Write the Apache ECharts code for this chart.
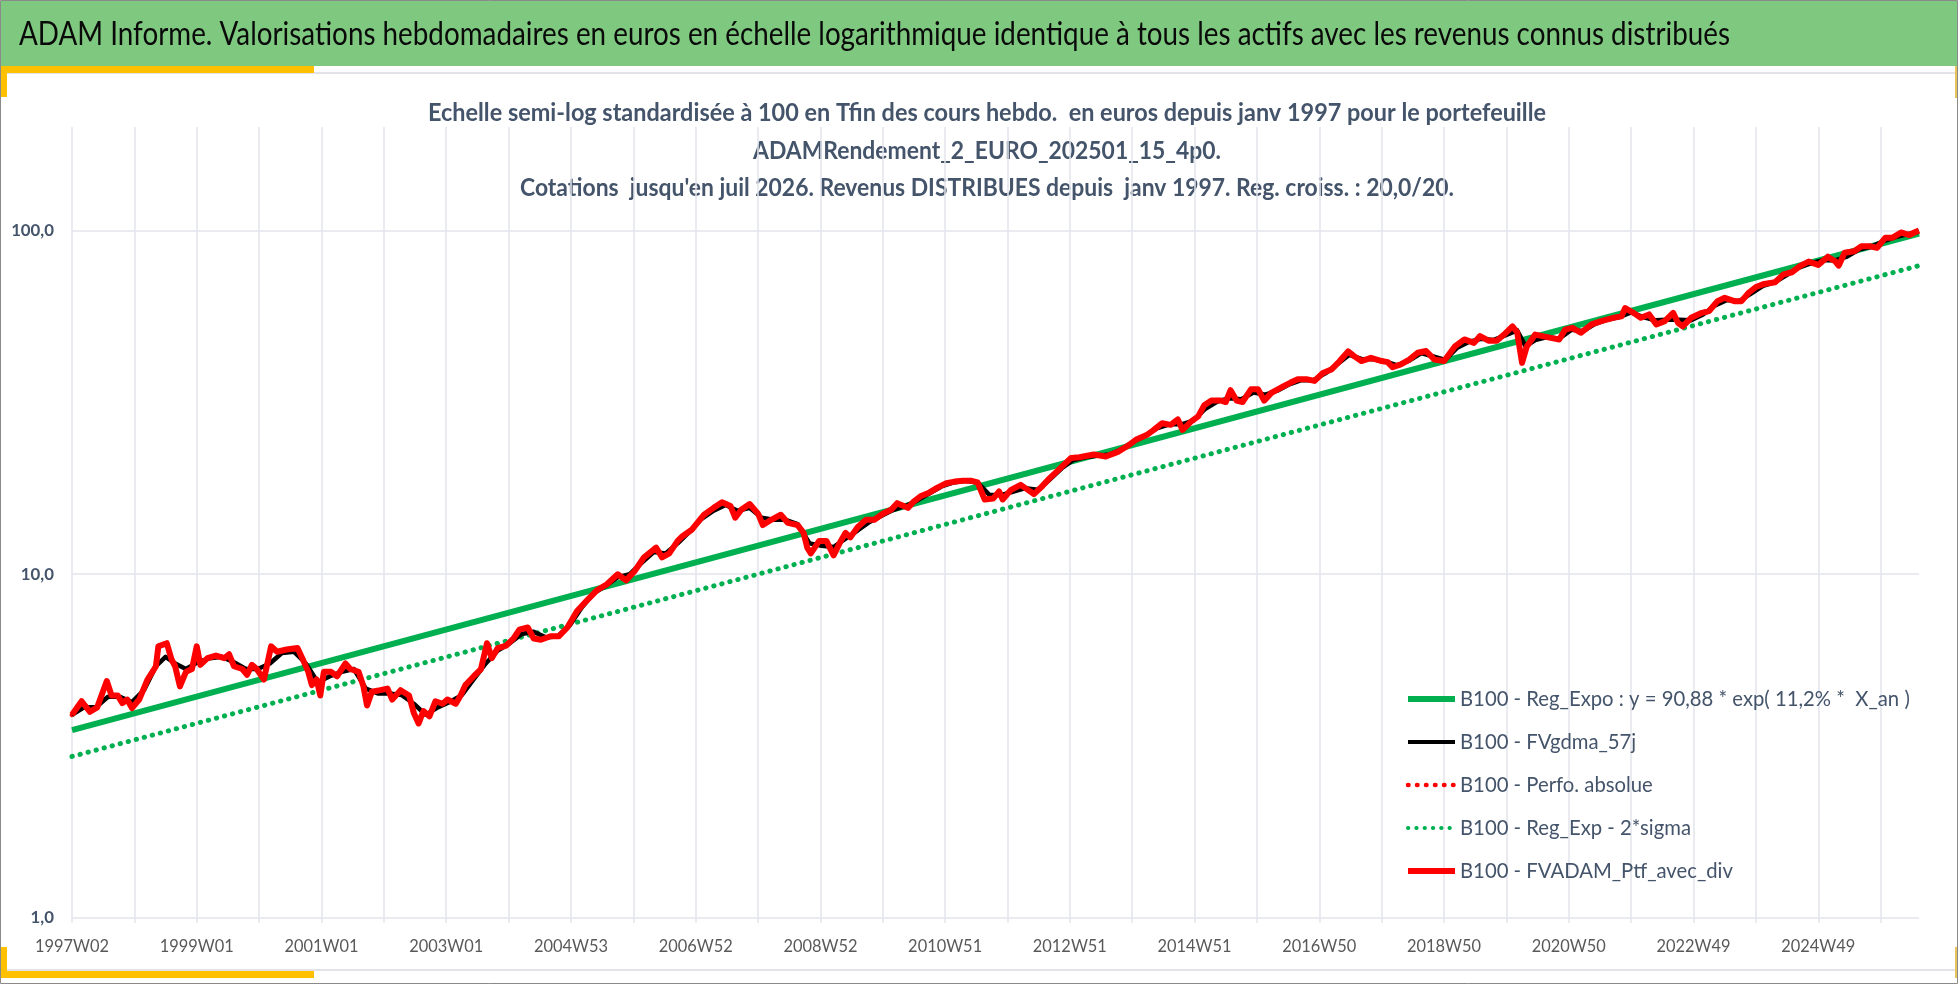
<!DOCTYPE html>
<html>
<head>
<meta charset="utf-8">
<title>ADAM Informe</title>
<script src="https://cdn.jsdelivr.net/npm/echarts@6/dist/echarts.min.js"></script>
<style>
  html, body { margin: 0; padding: 0; background: #fff; }
  #chart { width: 1958px; height: 984px; }
</style>
</head>
<body>
<div id="chart"></div>
<script>
// x = week index counted from 1997W02, one label every 104 weeks
const xTickLabels = ['1997W02', '1999W01', '2001W01', '2003W01', '2004W53', '2006W52', '2008W52',
  '2010W51', '2012W51', '2014W51', '2016W50', '2018W50', '2020W50', '2022W49', '2024W49']
const yTickValues = [1, 10, 100]
const lastWeek = 1540

// regression lines (start / end)
const regExpo = [[0, 3.52], [1540, 98]]
const regExp2Sigma = [[0, 2.95], [1540, 79]]

// B100 - FVADAM_Ptf_avec_div  [week, value]
const ptfAvecDiv = [
  [0, 3.9], [8, 4.27], [15, 3.98], [21, 4.1], [29, 4.89], [33, 4.44], [38, 4.44], [42, 4.22], [46, 4.32],
  [50, 4.08], [56, 4.32], [63, 4.94], [70, 5.4], [72, 6.17], [79, 6.3], [83, 5.65], [86, 5.4], [90, 4.72],
  [95, 5.2], [100, 5.3], [104, 6.17], [107, 5.45], [113, 5.7], [120, 5.8], [127, 5.7], [131, 5.85],
  [135, 5.4], [142, 5.3], [146, 5.1], [150, 5.45], [154, 5.3], [160, 4.94], [166, 6.17], [171, 5.95],
  [179, 6.04], [188, 6.1], [192, 5.7], [197, 5.2], [200, 4.76], [204, 4.94], [207, 4.44], [210, 5.2],
  [216, 5.2], [221, 5.05], [228, 5.5], [232, 5.3], [239, 5.2], [243, 4.72], [246, 4.15], [250, 4.55],
  [257, 4.6], [263, 4.65], [267, 4.32], [274, 4.6], [281, 4.44], [285, 3.95], [289, 3.68], [293, 4.0],
  [298, 3.86], [303, 4.27], [309, 4.2], [313, 4.32], [320, 4.2], [324, 4.44], [328, 4.76], [335, 5.05],
  [341, 5.3], [346, 6.3], [350, 5.7], [355, 6.1], [362, 6.2], [368, 6.5], [373, 6.9], [380, 7.0],
  [385, 6.5], [391, 6.45], [399, 6.6], [406, 6.6], [413, 7.0], [421, 7.8], [430, 8.44], [438, 9.0],
  [446, 9.35], [455, 10.0], [462, 9.6], [469, 10.2], [477, 11.2], [487, 11.95], [492, 11.2], [498, 11.5],
  [505, 12.5], [509, 12.9], [517, 13.5], [527, 14.9], [535, 15.6], [542, 16.2], [549, 15.8], [553, 14.6],
  [558, 15.4], [565, 16.0], [572, 15.0], [576, 13.9], [583, 14.4], [591, 14.9], [597, 14.1], [605, 13.9],
  [610, 13.2], [613, 11.95], [616, 11.5], [623, 12.5], [629, 12.5], [635, 11.35], [641, 12.5], [645, 13.2],
  [649, 12.8], [655, 13.7], [662, 14.4], [669, 14.4], [676, 15.0], [683, 15.4], [688, 16.1], [697, 15.6],
  [702, 16.3], [708, 16.9], [715, 17.3], [722, 17.9], [729, 18.4], [736, 18.6], [743, 18.7], [750, 18.7],
  [755, 18.5], [761, 16.5], [768, 16.6], [773, 17.4], [776, 16.5], [783, 17.6], [791, 18.2], [797, 17.6],
  [802, 17.1], [808, 17.9], [815, 19.0], [825, 20.5], [833, 21.8], [840, 21.9], [852, 22.3], [862, 22.0],
  [872, 22.7], [880, 23.6], [887, 24.6], [896, 25.4], [902, 26.3], [909, 27.5], [916, 27.2], [922, 28.2],
  [926, 26.3], [933, 27.8], [939, 28.8], [944, 31.0], [950, 32.0], [958, 32.0], [962, 31.7], [966, 34.3],
  [971, 32.0], [976, 31.7], [983, 34.5], [989, 34.5], [994, 32.0], [1000, 33.7], [1008, 34.9], [1016, 36.1],
  [1022, 36.9], [1030, 36.9], [1036, 36.5], [1043, 38.5], [1050, 39.4], [1057, 41.7], [1064, 44.5],
  [1069, 43.1], [1075, 41.7], [1083, 42.6], [1092, 41.7], [1097, 41.4], [1101, 40.0], [1108, 40.8],
  [1115, 42.1], [1122, 44.1], [1129, 44.6], [1136, 42.1], [1144, 41.7], [1153, 46.0], [1161, 48.2],
  [1169, 47.1], [1174, 49.3], [1181, 47.8], [1188, 47.8], [1194, 49.8], [1201, 52.6], [1205, 50.5],
  [1209, 41.2], [1213, 46.0], [1220, 49.8], [1226, 49.3], [1233, 48.7], [1240, 48.2], [1245, 51.5],
  [1251, 52.1], [1258, 50.4], [1267, 53.3], [1275, 54.5], [1285, 55.7], [1292, 56.3], [1295, 59.5],
  [1302, 57.6], [1308, 55.7], [1315, 57.0], [1321, 53.3], [1328, 54.5], [1335, 57.6], [1339, 53.9],
  [1343, 52.6], [1350, 55.7], [1359, 57.6], [1365, 58.3], [1372, 62.3], [1378, 63.7], [1386, 62.3],
  [1392, 62.3], [1398, 65.9], [1404, 68.5], [1411, 69.9], [1420, 70.7], [1427, 74.5], [1434, 75.6],
  [1441, 78.9], [1448, 81.2], [1456, 79.4], [1464, 83.9], [1470, 81.4], [1473, 79.0], [1478, 86.1],
  [1486, 87.0], [1492, 90.0], [1499, 90.0], [1505, 89.0], [1512, 95.3], [1518, 95.3], [1525, 98.7],
  [1532, 97.0], [1537, 99.0], [1540, 100]
]

// B100 - FVgdma_57j (smoothed, mostly under the red line)
const fvGdma57j = [
  [0, 3.9], [10, 4.1], [20, 4.1], [30, 4.4], [40, 4.4], [50, 4.25], [60, 4.6], [70, 5.4], [78, 5.75],
  [86, 5.5], [95, 5.3], [105, 5.55], [115, 5.7], [125, 5.75], [135, 5.55], [145, 5.3], [155, 5.3],
  [165, 5.5], [175, 5.9], [185, 5.95], [195, 5.5], [205, 4.85], [215, 5.05], [225, 5.2], [235, 5.3],
  [245, 4.65], [255, 4.5], [265, 4.5], [275, 4.45], [285, 4.2], [295, 3.9], [305, 4.1], [315, 4.25],
  [325, 4.45], [335, 4.95], [345, 5.5], [355, 6.0], [365, 6.3], [375, 6.7], [385, 6.8], [395, 6.55],
  [405, 6.6], [415, 7.1], [425, 8.0], [435, 8.8], [445, 9.25], [455, 9.8], [465, 10.0], [475, 10.8],
  [485, 11.6], [495, 11.5], [505, 12.3], [515, 13.3], [525, 14.5], [535, 15.3], [545, 15.9], [555, 15.3],
  [565, 15.6], [575, 14.6], [585, 14.4], [595, 14.4], [605, 14.0], [615, 12.3], [625, 12.1], [635, 12.0],
  [645, 12.7], [655, 13.4], [665, 14.2], [675, 14.8], [685, 15.4], [695, 15.8], [705, 16.4], [715, 17.2],
  [725, 18.0], [735, 18.5], [745, 18.7], [755, 18.5], [765, 17.0], [775, 17.0], [785, 17.4], [795, 17.8],
  [805, 17.6], [815, 18.8], [825, 20.3], [835, 21.5], [845, 21.9], [855, 22.1], [865, 22.3], [875, 23.1],
  [885, 24.3], [895, 25.3], [905, 26.6], [915, 27.3], [925, 27.3], [935, 28.0], [945, 30.3], [955, 31.8],
  [965, 32.5], [975, 32.3], [985, 33.8], [995, 33.3], [1005, 34.2], [1015, 35.7], [1025, 36.7], [1035, 36.7],
  [1045, 38.4], [1055, 40.8], [1065, 43.5], [1075, 42.3], [1085, 42.2], [1095, 41.6], [1105, 40.5],
  [1115, 41.8], [1125, 44.0], [1135, 43.0], [1145, 42.0], [1155, 45.6], [1165, 47.5], [1175, 48.4],
  [1185, 48.0], [1195, 49.5], [1205, 51.2], [1212, 46.0], [1220, 48.0], [1230, 49.0], [1240, 48.4],
  [1250, 51.4], [1260, 51.0], [1270, 53.5], [1280, 55.0], [1290, 56.0], [1300, 57.8], [1310, 56.0],
  [1320, 54.8], [1330, 55.0], [1340, 55.0], [1350, 54.8], [1360, 57.0], [1370, 60.5], [1380, 62.8],
  [1390, 62.3], [1400, 65.5], [1410, 69.0], [1420, 70.8], [1430, 74.3], [1440, 78.0], [1450, 80.3],
  [1460, 82.0], [1470, 81.8], [1480, 84.0], [1490, 88.0], [1500, 89.6], [1510, 93.0], [1520, 95.5],
  [1530, 97.5], [1540, 99.2]
]

const bannerTitle = 'ADAM Informe. Valorisations hebdomadaires en euros en échelle logarithmique identique à tous les actifs avec les revenus connus distribués'
const subTitle = [
  'Echelle semi-log standardisée à 100 en Tfin des cours hebdo.  en euros depuis janv 1997 pour le portefeuille',
  'ADAMRendement_2_EURO_202501_15_4p0.',
  "Cotations  jusqu'en juil 2026. Revenus DISTRIBUES depuis  janv 1997. Reg. croiss. : 20,0/20."
]
const seriesNames = [
  'B100 - Reg_Expo : y = 90,88 * exp( 11,2% *  X_an )',
  'B100 - FVgdma_57j',
  'B100 - Perfo. absolue',
  'B100 - Reg_Exp - 2*sigma',
  'B100 - FVADAM_Ptf_avec_div'
]

const FONT = "Lato, 'Noto Sans', sans-serif"
const GRID_COLOR = '#e3e5ec'
const GREEN = '#00b050'
const RED = '#ff0000'
const SLATE = '#44546a'

// the original uses a condensed font: fit texts to the widths seen on the picture
const measureCtx = document.createElement('canvas').getContext('2d')
function textWidth(text, font) {
  measureCtx.font = font
  return measureCtx.measureText(text).width
}
function fitScale(text, font, width) {
  return width / textWidth(text, font)
}
function fitSize(text, weight, base, width) {
  const w = textWidth(text, weight + ' ' + base + 'px ' + FONT)
  return Math.round(base * width / w * 10) / 10
}

const titleFont = 'normal 32px ' + FONT
const subFont = 'bold 24px ' + FONT
const subWidths = [1118, 468, 934]
const subY = [113, 151.5, 188.5]

// slightly taller than a pure width fit, closer to the condensed original
const legendSize = Math.min(22, fitSize(seriesNames[0], 'normal', 21, 450))
const xLabelSize = Math.min(20, fitSize(xTickLabels[0], 'normal', 19, 74))
const yLabelSize = Math.min(20, fitSize('100,0', 'bold', 19, 43))

const graphics = [
  { type: 'rect', z: -10, shape: { x: 1, y: 1, width: 1956, height: 65 }, style: { fill: '#7fc87f' } },
  { type: 'line', z: -10, shape: { x1: 7, y1: 73, x2: 1956, y2: 73 }, style: { stroke: '#e1e3e8', lineWidth: 2 } },
  { type: 'line', z: -10, shape: { x1: 7, y1: 970, x2: 1956, y2: 970 }, style: { stroke: '#e1e3e8', lineWidth: 2 } },
  { type: 'rect', z: -9, shape: { x: 0, y: 66, width: 314, height: 7 }, style: { fill: '#ffc000' } },
  { type: 'rect', z: -9, shape: { x: 0, y: 66, width: 7, height: 31 }, style: { fill: '#ffc000' } },
  { type: 'rect', z: -9, shape: { x: 0, y: 971, width: 314, height: 7 }, style: { fill: '#ffc000' } },
  { type: 'rect', z: -9, shape: { x: 0, y: 947, width: 7, height: 31 }, style: { fill: '#ffc000' } },
  { type: 'rect', z: -9, shape: { x: 1955, y: 66, width: 3, height: 32 }, style: { fill: '#e8c25a' } },
  { type: 'rect', z: -9, shape: { x: 1955, y: 947, width: 3, height: 31 }, style: { fill: '#e8c25a' } },
  { type: 'rect', z: -8, shape: { x: 0.5, y: 0.5, width: 1957, height: 983 }, style: { fill: 'none', stroke: '#8a8a8a', lineWidth: 1 } },
  {
    type: 'text', x: 19, y: 34.5, scaleX: fitScale(bannerTitle, titleFont, 1711),
    style: { text: bannerTitle, font: titleFont, fill: '#0a0a0a', align: 'left', verticalAlign: 'middle' }
  }
]
subTitle.forEach((line, i) => {
  graphics.push({
    type: 'text', x: 987, y: subY[i], scaleX: fitScale(line, subFont, subWidths[i]),
    style: { text: line, font: subFont, fill: SLATE, align: 'center', verticalAlign: 'middle' }
  })
})

const chart = echarts.init(document.getElementById('chart'))
chart.setOption({
  animation: false,
  backgroundColor: '#ffffff',
  graphic: graphics,
  grid: { left: 72, right: 39, top: 127, bottom: 66 },
  legend: {
    orient: 'vertical',
    left: 1405,
    top: 688,
    padding: 0,
    itemWidth: 47,
    itemHeight: 14,
    itemGap: 21,
    selectedMode: false,
    // hide the marker drawn in the middle of line icons
    itemStyle: { color: 'transparent', borderColor: 'transparent', borderWidth: 0 },
    textStyle: { fontFamily: FONT, fontSize: legendSize, color: SLATE, lineHeight: 22 },
    data: [
      { name: seriesNames[0], lineStyle: { width: 6 } },
      { name: seriesNames[1], lineStyle: { width: 4 } },
      { name: seriesNames[2], lineStyle: { width: 4.5 } },
      { name: seriesNames[3], lineStyle: { width: 4 } },
      { name: seriesNames[4], lineStyle: { width: 6 } }
    ]
  },
  xAxis: {
    type: 'value',
    min: 0,
    max: lastWeek,
    interval: 52,
    axisLine: { show: false },
    axisTick: { show: true, length: 5, lineStyle: { color: GRID_COLOR, width: 1.5 } },
    splitLine: { show: true, showMaxLine: false, lineStyle: { color: GRID_COLOR, width: 1.5 } },
    axisLabel: {
      showMaxLabel: false,
      margin: Math.round(29 - xLabelSize / 2),
      fontFamily: FONT,
      fontSize: xLabelSize,
      color: '#595959',
      formatter: v => (v % 104 === 0 && xTickLabels[v / 104]) ? xTickLabels[v / 104] : ''
    }
  },
  yAxis: {
    type: 'log',
    logBase: 10,
    min: 1,
    max: 200,
    axisLine: { show: false },
    axisTick: { show: false },
    splitLine: { show: true, showMaxLine: false, lineStyle: { color: GRID_COLOR, width: 1.5 } },
    axisLabel: {
      margin: 18,
      fontFamily: FONT,
      fontSize: yLabelSize,
      fontWeight: 'bold',
      color: SLATE,
      formatter: v => {
        const r = Math.round(v)
        return yTickValues.includes(r) ? r.toFixed(1).replace('.', ',') : ''
      }
    }
  },
  series: [
    {
      name: seriesNames[0], type: 'line', data: regExpo, symbol: 'none', silent: true,
      color: GREEN, lineStyle: { color: GREEN, width: 6 }
    },
    {
      name: seriesNames[3], type: 'line', data: regExp2Sigma, symbol: 'none', silent: true,
      color: GREEN, lineStyle: { color: GREEN, width: 5, type: [0.3, 8], cap: 'round' }
    },
    {
      name: seriesNames[2], type: 'line', data: ptfAvecDiv, symbol: 'none', silent: true,
      color: RED, lineStyle: { color: RED, width: 4.5, type: [0.5, 8.5], cap: 'round' }
    },
    {
      name: seriesNames[1], type: 'line', data: fvGdma57j, symbol: 'none', silent: true,
      color: '#000000', lineStyle: { color: '#000000', width: 4.5, join: 'round' }
    },
    {
      name: seriesNames[4], type: 'line', data: ptfAvecDiv, symbol: 'none', silent: true,
      color: RED, lineStyle: { color: RED, width: 6, join: 'round' }
    }
  ]
})
</script>
</body>
</html>
